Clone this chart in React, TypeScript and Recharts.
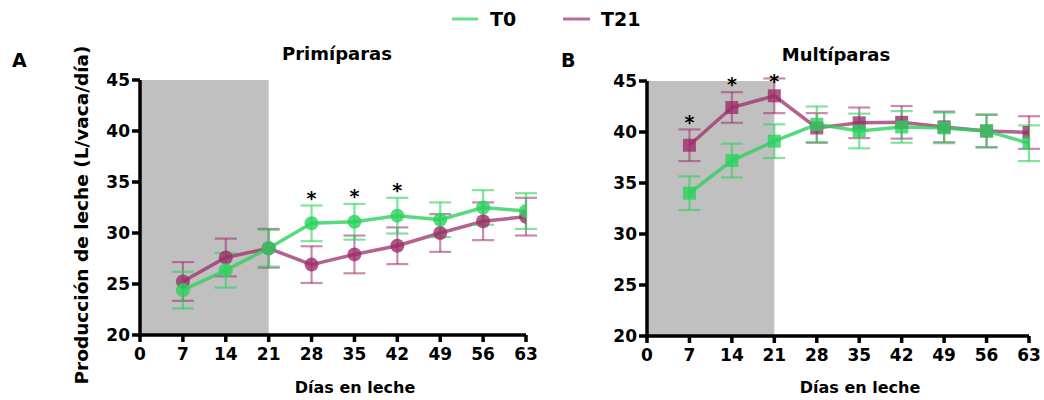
import React from 'react';
import { LineChart, Line, XAxis, YAxis, ErrorBar, ReferenceArea } from 'recharts';

const days = [7, 14, 21, 28, 35, 42, 49, 56, 63];
const xTicks = [0, 7, 14, 21, 28, 35, 42, 49, 56, 63];
const yTicks = [20, 25, 30, 35, 40, 45];
const shadeRange = [0, 21];

const primT0 = [24.4, 26.35, 28.5, 30.95, 31.1, 31.7, 31.3, 32.5, 32.15];
const primT0Err = [1.8, 1.7, 1.8, 1.75, 1.75, 1.75, 1.7, 1.7, 1.75];
const primT21 = [25.25, 27.6, 28.5, 26.9, 27.9, 28.75, 30.0, 31.15, 31.6];
const primT21Err = [1.9, 1.85, 1.9, 1.8, 1.85, 1.8, 1.85, 1.85, 1.85];
const primSig = [false, false, false, true, true, true, false, false, false];

const multT0 = [34.0, 37.2, 39.1, 40.75, 40.1, 40.5, 40.4, 40.1, 38.9];
const multT0Err = [1.65, 1.65, 1.65, 1.75, 1.7, 1.55, 1.5, 1.6, 1.75];
const multT21 = [38.7, 42.4, 43.55, 40.4, 40.9, 40.95, 40.5, 40.1, 39.95];
const multT21Err = [1.55, 1.5, 1.7, 1.45, 1.5, 1.6, 1.5, 1.6, 1.6];
const multSig = [true, true, true, false, false, false, false, false, false];

const GREEN = '#2ad25e';
const MAGENTA = '#9c2d69';
const FONT = '"DejaVu Sans", Verdana, sans-serif';

function buildRows(t0: number[], t0e: number[], t21: number[], t21e: number[], sig: boolean[]) {
  return days.map((d, i) => {
    const upper = Math.max(t0[i] + t0e[i], t21[i] + t21e[i]);
    return {
      day: d,
      t0: t0[i],
      t0Err: t0e[i],
      t21: t21[i],
      t21Err: t21e[i],
      star: sig[i] ? Math.min(upper + 1.15, 45.4) : null,
    };
  });
}

const primRows = buildRows(primT0, primT0Err, primT21, primT21Err, primSig);
const multRows = buildRows(multT0, multT0Err, multT21, multT21Err, multSig);

const tickStyle = { fontFamily: FONT, fontWeight: 700, fontSize: 17, fill: '#000' };
const axisStroke = { stroke: '#000', strokeWidth: 3.5 };

const circleDot = (color: string) => (props: any) => {
  const { cx, cy, index } = props;
  if (cx == null || cy == null) return <g key={index} />;
  return <circle key={index} cx={cx} cy={cy} r={7} fill={color} fillOpacity={0.8} stroke="none" />;
};

const squareDot = (color: string) => (props: any) => {
  const { cx, cy, index } = props;
  if (cx == null || cy == null) return <g key={index} />;
  return <rect key={index} x={cx - 6.5} y={cy - 6.5} width={13} height={13} fill={color} fillOpacity={0.8} stroke="none" />;
};

const renderStar = (props: any) => {
  const { x, y, value, index } = props;
  if (value == null || x == null || y == null) return <g key={index} />;
  return (
    <text key={index} x={x} y={y + 11} textAnchor="middle" fontFamily={FONT} fontWeight={700} fontSize={19} fill="#000">
      *
    </text>
  );
};

function Panel({ rows, square, width, yAxisWidth, margin }: any) {
  const dotFn = square ? squareDot : circleDot;
  return (
    <LineChart width={width} height={400} data={rows} margin={margin}>
      <ReferenceArea x1={shadeRange[0]} x2={shadeRange[1]} y1={20} y2={45} fill="#c0c0c0" fillOpacity={1} stroke="none" ifOverflow="hidden" />
      <XAxis
        dataKey="day"
        type="number"
        domain={[0, 63]}
        ticks={xTicks}
        interval={0}
        allowDataOverflow
        height={30}
        tick={tickStyle}
        tickSize={7}
        tickMargin={6}
        axisLine={axisStroke}
        tickLine={axisStroke}
      />
      <YAxis
        type="number"
        domain={[20, 45]}
        ticks={yTicks}
        interval={0}
        allowDataOverflow
        width={yAxisWidth}
        tick={tickStyle}
        tickSize={8}
        tickMargin={2}
        axisLine={axisStroke}
        tickLine={axisStroke}
      />
      <Line
        dataKey="t21"
        stroke={MAGENTA}
        strokeOpacity={0.75}
        strokeWidth={3.5}
        dot={dotFn(MAGENTA)}
        isAnimationActive={false}
      >
        <ErrorBar dataKey="t21Err" direction="y" width={11} strokeWidth={2.2} stroke={MAGENTA} strokeOpacity={0.55} />
      </Line>
      <Line
        dataKey="t0"
        stroke={GREEN}
        strokeOpacity={0.8}
        strokeWidth={3.5}
        dot={dotFn(GREEN)}
        isAnimationActive={false}
      >
        <ErrorBar dataKey="t0Err" direction="y" width={11} strokeWidth={2.2} stroke={GREEN} strokeOpacity={0.6} />
      </Line>
      <Line dataKey="star" stroke="none" dot={false} activeDot={false} isAnimationActive={false} label={renderStar} />
    </LineChart>
  );
}

export default function App() {
  const textProps = { fontFamily: FONT, fontWeight: 700, fill: '#000' };
  return (
    <div style={{ position: 'absolute', left: 0, top: 0, width: 1044, height: 400, background: '#fff', overflow: 'hidden' }}>
      <div style={{ position: 'absolute', left: 0, top: 0 }}>
        <Panel rows={primRows} square={false} width={540} yAxisWidth={140} margin={{ top: 80, right: 14, bottom: 35, left: 0 }} />
      </div>
      <div style={{ position: 'absolute', left: 520, top: 0 }}>
        <Panel rows={multRows} square={true} width={524} yAxisWidth={127} margin={{ top: 81, right: 15, bottom: 34, left: 0 }} />
      </div>
      <svg width={1044} height={400} style={{ position: 'absolute', left: 0, top: 0, pointerEvents: 'none' }}>
        <line x1={452} y1={19} x2={478} y2={19} stroke={GREEN} strokeWidth={3} strokeOpacity={0.7} />
        <text x={490} y={26} fontSize={19} {...textProps}>T0</text>
        <line x1={563} y1={19} x2={590} y2={19} stroke={MAGENTA} strokeWidth={3} strokeOpacity={0.7} />
        <text x={601} y={26} fontSize={19} {...textProps}>T21</text>

        <text x={12} y={67} fontSize={19} {...textProps}>A</text>
        <text x={561} y={67} fontSize={19} {...textProps}>B</text>

        <text x={337} y={60} fontSize={18} textAnchor="middle" {...textProps}>Primíparas</text>
        <text x={836} y={61} fontSize={18} textAnchor="middle" {...textProps}>Multíparas</text>

        <text x={355} y={393} fontSize={16} textAnchor="middle" {...textProps}>Días en leche</text>
        <text x={860} y={393} fontSize={16} textAnchor="middle" {...textProps}>Días en leche</text>

        <text transform="translate(88, 215) rotate(-90)" x={0} y={0} fontSize={18.5} textAnchor="middle" {...textProps}>
          Producción de leche (L/vaca/día)
        </text>
      </svg>
    </div>
  );
}
